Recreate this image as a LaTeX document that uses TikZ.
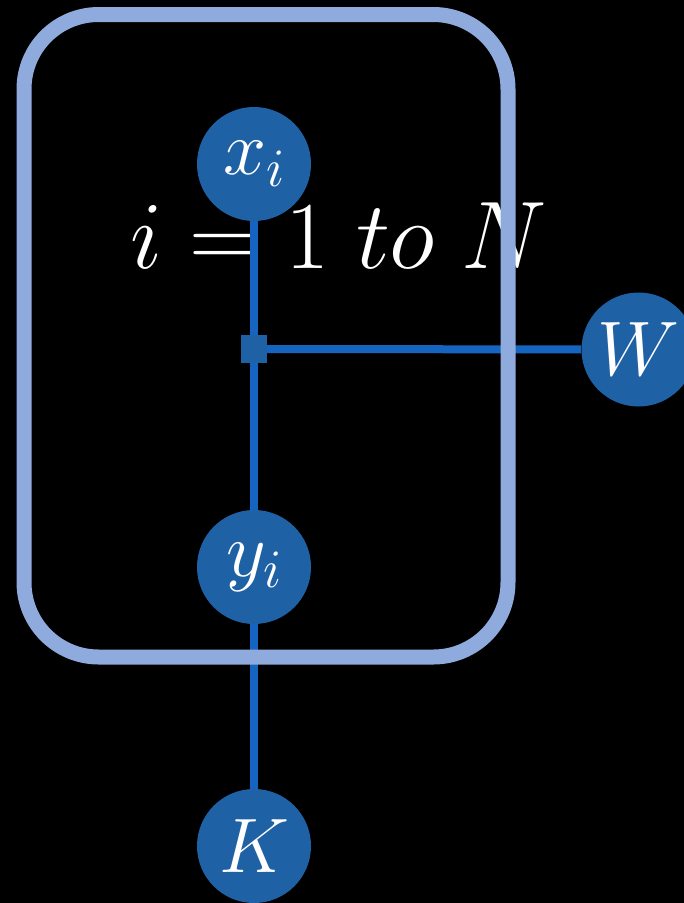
\RequirePackage{fix-cm}
\documentclass[tikz,border=0pt]{standalone}
\usepackage{amsmath}
\usepackage{tikz}
\pgfdeclarelayer{bg}
\pgfdeclarelayer{lines}
\pgfdeclarelayer{plate}
\pgfsetlayers{bg,lines,plate,main}
\definecolor{nodeblue}{HTML}{1F61A5}
\definecolor{lineblue}{HTML}{1565C0}
\definecolor{plateblue}{HTML}{8FAADC}
\tikzset{
  var/.style={circle,fill=nodeblue,text=white,inner sep=0pt,minimum size=85.5pt,font=\fontsize{58}{64}\selectfont},
  fac/.style={rectangle,fill=nodeblue,inner sep=0pt,minimum width=19pt,minimum height=21pt},
}

\begin{document}
\begin{tikzpicture}[x=0.75pt,y=-0.75pt]
    \begin{pgfonlayer}{bg}
    \fill[black] (0,0) rectangle (684,903);
    \end{pgfonlayer}
    \useasboundingbox (0,0) rectangle (684,903);

    \node (xi) [var] at (254,164) {$x_i$};
    \node (yi) [var] at (254,567) {$y_i$};
    \node (K) [var] at (254,846) {$K$};
    \node (W) [var] at (638.5,349.5) {$W$};
    \node (f) [fac] at (254,349) {};

    \begin{pgfonlayer}{lines}
    \node (N) [text=white,anchor=base,font=\fontsize{72}{78}\selectfont] at (339,268) {$i = 1\;to\;N$};
    \path[lineblue,line width=6pt]
    (xi) edge (f)
    (f) edge (yi)
    (f) edge (W)
    (yi) edge (K)
    ;
    \end{pgfonlayer}

    \begin{pgfonlayer}{plate}
    \draw[plateblue,line width=11.25pt,rounded corners=56pt] (24,14.5) rectangle (508,657);
    \end{pgfonlayer}
  \end{tikzpicture}
\end{document}
